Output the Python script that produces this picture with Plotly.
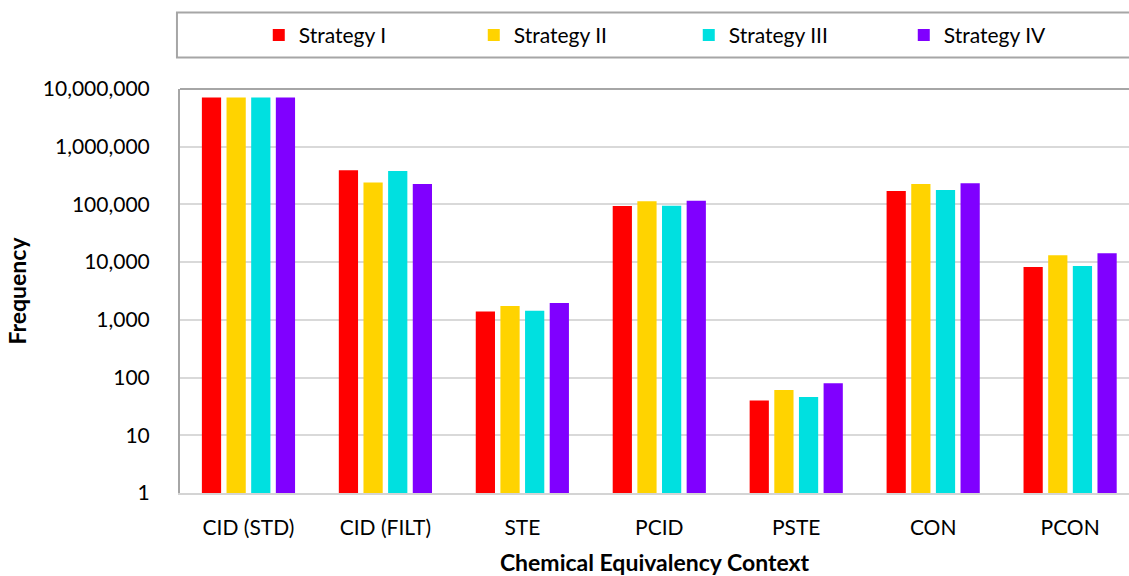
import plotly.graph_objects as go

# Chemical equivalency contexts (x categories)
categories = ["CID (STD)", "CID (FILT)", "STE", "PCID", "PSTE", "CON", "PCON"]

# Frequencies per strategy
strategy_1 = [7100000, 391000, 1400, 94000, 40, 171000, 8240]
strategy_2 = [7100000, 239000, 1730, 113000, 61, 227000, 13100]
strategy_3 = [7100000, 381000, 1440, 95000, 46, 178000, 8570]
strategy_4 = [7100000, 227000, 1950, 116000, 80, 232000, 14200]

series_names = ["Strategy I", "Strategy II", "Strategy III", "Strategy IV"]
series_colors = ["#FF0000", "#FFD300", "#00E0E0", "#8000FF"]

# Log-axis ticks
tick_values = [1, 10, 100, 1000, 10000, 100000, 1000000, 10000000]
tick_labels = ["1", "10", "100", "1,000", "10,000", "100,000", "1,000,000", "10,000,000"]

FONT = "Lato, 'Open Sans', sans-serif"

fig = go.Figure()
for name, color, values in zip(series_names, series_colors,
                               [strategy_1, strategy_2, strategy_3, strategy_4]):
    fig.add_trace(go.Bar(
        x=categories, y=values, name=name,
        marker=dict(color=color, line=dict(width=0)),
    ))

fig.update_layout(
    width=1129, height=576,
    margin=dict(l=180, r=0, t=89, b=83),
    paper_bgcolor="white", plot_bgcolor="white",
    barmode="group", bargap=0.28, bargroupgap=0.22,
    font=dict(family=FONT, size=21, color="#000000"),
    showlegend=True,
    legend=dict(
        orientation="h",
        x=0.083, xanchor="left",
        y=1.1326, yanchor="middle",
        font=dict(family=FONT, size=21, color="#000000"),
        entrywidth=170, entrywidthmode="pixels",
        itemwidth=30, bgcolor="rgba(0,0,0,0)",
        traceorder="normal",
    ),
    xaxis=dict(
        type="category",
        range=[-0.5, 6.43],
        showgrid=False,
        showline=True, linecolor="#d4d4d4", linewidth=2,
        ticks="", ticklabelstandoff=15,
        tickfont=dict(family=FONT, size=21, color="#000000"),
        title=dict(text="<b>Chemical Equivalency Context</b>",
                   font=dict(family=FONT, size=23, color="#000000"),
                   standoff=20),
    ),
    yaxis=dict(
        type="log",
        range=[0, 7],
        tickvals=tick_values, ticktext=tick_labels,
        showgrid=True, gridcolor="#d9d9d9", gridwidth=2,
        showline=True, linecolor="#a6a6a6", linewidth=2,
        ticks="", ticklabelstandoff=24,
        tickfont=dict(family=FONT, size=21, color="#000000"),
        zeroline=False,
        title=dict(text="<b>Frequency</b>",
                   font=dict(family=FONT, size=23, color="#000000"),
                   standoff=10),
    ),
    shapes=[
        # darker top edge of the plot area
        dict(type="line", xref="paper", yref="paper",
             x0=0, x1=1, y0=1, y1=1,
             line=dict(color="#a6a6a6", width=2)),
        # frame around the legend
        dict(type="rect", xref="paper", yref="paper",
             x0=-0.0032, x1=1.02, y0=1.078, y1=1.1896,
             line=dict(color="#a6a6a6", width=2),
             fillcolor="rgba(0,0,0,0)", layer="below"),
    ],
)

fig.write_html("out.html")
